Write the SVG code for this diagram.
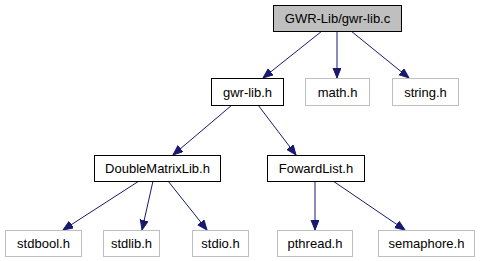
<svg xmlns="http://www.w3.org/2000/svg" width="481" height="261" viewBox="0 0 481 261">
  <style>
    .box { fill: #ffffff; stroke: #000000; stroke-width: 1; }
    .ext { fill: #ffffff; stroke: #bfbfbf; stroke-width: 1; }
    .root { fill: #bfbfbf; stroke: #000000; stroke-width: 1; }
    text { font-family: "Liberation Sans", Arial, sans-serif; font-size: 13px; text-anchor: middle; fill: #000000; }
    .edge { stroke: #191970; stroke-width: 1; fill: none; marker-end: url(#arrow); }
  </style>
  <defs>
    <marker id="arrow" markerUnits="userSpaceOnUse" markerWidth="12" markerHeight="10" refX="10" refY="4" orient="auto">
      <path d="M0,0 L10,4 L0,8 Z" fill="#191970" stroke="#191970" stroke-width="1"/>
    </marker>
  </defs>
  <rect width="481" height="261" fill="#ffffff"/>

  <g id="connectors">
    <line class="edge" x1="322" y1="31" x2="263" y2="78"/>
    <line class="edge" x1="337" y1="31" x2="337" y2="78"/>
    <line class="edge" x1="351" y1="31" x2="409" y2="78"/>
    <line class="edge" x1="232" y1="105" x2="173" y2="155"/>
    <line class="edge" x1="258" y1="105" x2="296" y2="155"/>
    <line class="edge" x1="139" y1="181" x2="63" y2="230"/>
    <line class="edge" x1="153" y1="181" x2="142" y2="230"/>
    <line class="edge" x1="168" y1="181" x2="207" y2="230"/>
    <line class="edge" x1="315" y1="181" x2="315" y2="230"/>
    <line class="edge" x1="333" y1="181" x2="405" y2="230"/>
  </g>

  <g id="node-gwr-lib-c">
    <rect class="root" x="273.5" y="5.5" width="128" height="26"/>
    <text x="337.5" y="23">GWR-Lib/gwr-lib.c</text>
  </g>
  <g id="node-gwr-lib-h">
    <rect class="box" x="211.5" y="78.5" width="72" height="27"/>
    <text x="247.5" y="97">gwr-lib.h</text>
  </g>
  <g id="node-math-h">
    <rect class="ext" x="305.5" y="78.5" width="64" height="27"/>
    <text x="337.5" y="97">math.h</text>
  </g>
  <g id="node-string-h">
    <rect class="ext" x="392.5" y="78.5" width="66" height="27"/>
    <text x="425.5" y="97">string.h</text>
  </g>
  <g id="node-doublematrixlib-h">
    <rect class="box" x="94.5" y="155.5" width="126" height="26"/>
    <text x="157.5" y="173">DoubleMatrixLib.h</text>
  </g>
  <g id="node-fowardlist-h">
    <rect class="box" x="267.5" y="155.5" width="97" height="26"/>
    <text x="316" y="173">FowardList.h</text>
  </g>
  <g id="node-stdbool-h">
    <rect class="ext" x="5.5" y="230.5" width="76" height="26"/>
    <text x="43.5" y="248">stdbool.h</text>
  </g>
  <g id="node-stdlib-h">
    <rect class="ext" x="103.5" y="230.5" width="56" height="26"/>
    <text x="131.5" y="248">stdlib.h</text>
  </g>
  <g id="node-stdio-h">
    <rect class="ext" x="192.5" y="230.5" width="56" height="26"/>
    <text x="220.5" y="248">stdio.h</text>
  </g>
  <g id="node-pthread-h">
    <rect class="ext" x="277.5" y="230.5" width="75" height="26"/>
    <text x="315" y="248">pthread.h</text>
  </g>
  <g id="node-semaphore-h">
    <rect class="ext" x="378.5" y="230.5" width="96" height="26"/>
    <text x="426.5" y="248">semaphore.h</text>
  </g>
</svg>
